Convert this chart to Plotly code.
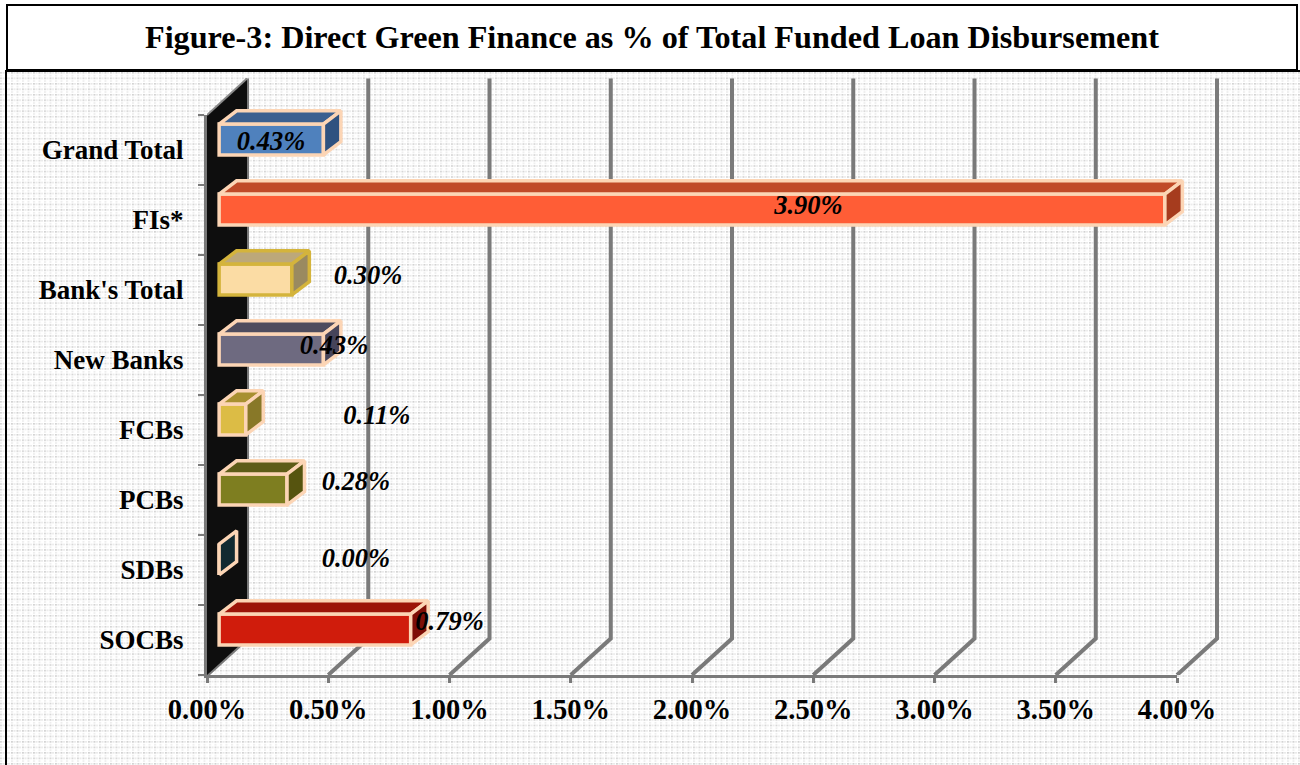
import base64
import plotly.graph_objects as go

# ---- chart content -------------------------------------------------------
TITLE = "Figure-3: Direct Green Finance as % of Total Funded Loan Disbursement"
CATEGORIES = ["SOCBs", "SDBs", "PCBs", "FCBs", "New Banks", "Bank's Total", "FIs*", "Grand Total"]
VALUES = [0.79, 0.00, 0.28, 0.11, 0.43, 0.30, 3.90, 0.43]
X_TICKS = [0.0, 0.5, 1.0, 1.5, 2.0, 2.5, 3.0, 3.5, 4.0]

# Where each value label is centred, in axis units.
LABEL_X = [1.00, 0.614, 0.614, 0.70, 0.524, 0.664, 2.48, 0.264]
LABEL_Y = [0.24, 1.14, 2.24, 3.18, 4.18, 5.18, 6.18, 7.10]

# Face colours per bar: front, top, side, outline.
FRONT = ["#d01c0c", "#122a30", "#7e7e20", "#dcbc45", "#6e6a80", "#fbdca4", "#ff5d36", "#4f81bd"]
TOP = ["#9c1408", "#122a30", "#5e5c18", "#a89030", "#4e4c5e", "#bca87a", "#c04a28", "#3b6090"]
SIDE = ["#7e0e06", "#122a30", "#56540f", "#887828", "#46445a", "#9a8a60", "#a63c1e", "#2f5280"]
EDGE = ["#fcd5b5", "#fcd5b5", "#fcd5b5", "#fcd5b5", "#fcd5b5", "#d4b43c", "#fcd5b5", "#fcd5b5"]

# ---- 3-D projection settings (axis units) --------------------------------
WALL_DX, WALL_DY = 0.165, 0.52      # depth of the chart box
BAR_DX, BAR_DY = 0.072, 0.19        # depth of a bar
BAR_BASE = 0.05                     # bars sit slightly into the box
BAR_SHIFT = 0.15                    # front face is raised within its band
BAR_H = 0.44
OUTLINE = 3.5

GRID = "#7a7a7a"
Y_BOTTOM, Y_TOP = -0.5, 7.5
FONT = "Liberation Serif"

W, H = 1300, 765
PLOT_L, PLOT_R, PLOT_T, PLOT_B = 207, 1177, 115, 675     # visible axes
OUTER_R, OUTER_T = 1225, 72                              # room for the box depth
PX_X = (PLOT_R - PLOT_L) / 4
PX_Y = (PLOT_B - PLOT_T) / (Y_TOP - Y_BOTTOM)
OUTER_X_RANGE = [0, (OUTER_R - PLOT_L) / PX_X]
OUTER_Y_RANGE = [Y_BOTTOM, Y_BOTTOM + (PLOT_B - OUTER_T) / PX_Y]
px = lambda v: v / W
py = lambda v: 1 - v / H

fig = go.Figure()


def poly(xs, ys, fill, line=None, width=0, axes=("x", "y")):
    fig.add_trace(go.Scatter(
        x=xs, y=ys, xaxis=axes[0], yaxis=axes[1], mode="lines", fill="toself", fillcolor=fill,
        line=dict(color=line or fill, width=width),
        hoverinfo="skip", showlegend=False,
    ))


def seg(xs, ys, color=GRID, width=4):
    fig.add_trace(go.Scatter(
        x=xs, y=ys, xaxis="x", yaxis="y", mode="lines", line=dict(color=color, width=width),
        hoverinfo="skip", showlegend=False,
    ))


# Gridlines on the floor and back plane
for t in X_TICKS:
    seg([t, t + WALL_DX, t + WALL_DX],
        [Y_BOTTOM, Y_BOTTOM + WALL_DY, Y_TOP + WALL_DY])

# Black side wall of the box
poly([0, WALL_DX, WALL_DX, 0, 0],
     [Y_TOP, Y_TOP + WALL_DY, Y_BOTTOM + WALL_DY, Y_BOTTOM, Y_TOP], "#0e0e0e")
seg([0, WALL_DX], [Y_TOP, Y_TOP + WALL_DY], color="#8a8a8a", width=2)

# Front faces: the real bars, on the visible axes
fig.add_trace(go.Bar(
    orientation="h",
    xaxis="x2", yaxis="y2",
    y=[i + BAR_SHIFT for i in range(len(VALUES))],
    x=VALUES,
    base=BAR_BASE,
    width=BAR_H,
    marker=dict(color=FRONT, line=dict(color=EDGE, width=OUTLINE)),
    hoverinfo="skip", showlegend=False,
))

# Top and side faces of each bar
for i, v in enumerate(VALUES):
    x0 = BAR_BASE
    x1 = BAR_BASE + v
    lo = i + BAR_SHIFT - BAR_H / 2
    hi = i + BAR_SHIFT + BAR_H / 2
    if v > 0:
        poly([x0, x0 + BAR_DX, x1 + BAR_DX, x1, x0],
             [hi, hi + BAR_DY, hi + BAR_DY, hi, hi], TOP[i], EDGE[i], OUTLINE, ("x3", "y3"))
    poly([x1, x1 + BAR_DX, x1 + BAR_DX, x1, x1],
         [lo, lo + BAR_DY, hi + BAR_DY, hi, lo], SIDE[i], EDGE[i], OUTLINE, ("x3", "y3"))

fig.add_trace(go.Scatter(
    x=LABEL_X, y=LABEL_Y, xaxis="x3", yaxis="y3", mode="text",
    text=[f"{v:.2f}%" for v in VALUES],
    textposition="middle center",
    textfont=dict(family=FONT, size=26.5, color="#000000", weight="bold", style="italic"),
    hoverinfo="skip", showlegend=False,
))

# Fine dotted backdrop below the heading
tile = base64.b64encode(
    b'<svg xmlns="http://www.w3.org/2000/svg" width="1300" height="695">'
    b'<defs><pattern id="d" width="5.5" height="5.5" patternUnits="userSpaceOnUse">'
    b'<rect width="5.5" height="5.5" fill="#ffffff"/>'
    b'<rect width="2" height="1.6" fill="#d2d2d2"/>'
    b'<rect x="2.8" width="1.6" height="1.6" fill="#e6e6e6"/>'
    b'<rect y="2.8" width="2" height="1.6" fill="#ececec"/>'
    b'</pattern></defs><rect width="1300" height="695" fill="url(#d)"/></svg>'
).decode()

hidden = dict(visible=False, fixedrange=True)
outer_x = dict(domain=[px(PLOT_L), px(OUTER_R)], range=OUTER_X_RANGE, **hidden)
outer_y = dict(domain=[py(PLOT_B), py(OUTER_T)], range=OUTER_Y_RANGE, **hidden)

fig.update_layout(
    width=W, height=H,
    margin=dict(l=0, r=0, t=0, b=0, autoexpand=False),
    paper_bgcolor="#ffffff",
    plot_bgcolor="rgba(0,0,0,0)",
    showlegend=False,
    barmode="overlay",
    images=[dict(
        source="data:image/svg+xml;base64," + tile,
        xref="paper", yref="paper", x=0, y=py(72),
        sizex=1, sizey=py(72), xanchor="left", yanchor="top",
        sizing="stretch", layer="below",
    )],
    xaxis=dict(anchor="y", **outer_x),
    yaxis=dict(anchor="x", **outer_y),
    xaxis3=dict(anchor="y3", **outer_x),
    yaxis3=dict(anchor="x3", **outer_y),
    xaxis2=dict(
        anchor="y2", domain=[px(PLOT_L), px(PLOT_R)],
        range=[0, 4], tickvals=X_TICKS, ticktext=[f"{t:.2f}%" for t in X_TICKS],
        ticks="outside", ticklen=5, tickwidth=3, tickcolor=GRID, ticklabelstandoff=2,
        showline=True, linecolor=GRID, linewidth=3, showgrid=False, zeroline=False,
        tickfont=dict(family=FONT, size=28.5, color="#000000", weight="bold"),
    ),
    yaxis2=dict(
        anchor="x2", domain=[py(PLOT_B), py(PLOT_T)],
        range=[Y_BOTTOM, Y_TOP],
        tickvals=list(range(len(CATEGORIES))), ticktext=CATEGORIES,
        ticks="", ticklabelstandoff=15,
        minor=dict(tickvals=[k - 0.5 for k in range(len(CATEGORIES) + 1)],
                   ticks="outside", ticklen=6, tickwidth=2, tickcolor=GRID, showgrid=False),
        showline=True, linecolor=GRID, linewidth=3, showgrid=False, zeroline=False,
        tickfont=dict(family=FONT, size=27, color="#000000", weight="bold"),
    ),
    shapes=[
        # Heading box and the frame running under it
        dict(type="rect", xref="paper", yref="paper", x0=px(7), x1=px(1297),
             y0=py(70), y1=py(5), line=dict(color="#000000", width=2),
             fillcolor="#ffffff", layer="below"),
        dict(type="line", xref="paper", yref="paper", x0=px(5), x1=1,
             y0=py(71), y1=py(71), line=dict(color="#000000", width=2)),
        dict(type="line", xref="paper", yref="paper", x0=px(6), x1=px(6),
             y0=py(71), y1=0, line=dict(color="#000000", width=2)),
    ],
    annotations=[dict(
        text=TITLE, xref="paper", yref="paper", x=px(652), y=py(37),
        xanchor="center", yanchor="middle", showarrow=False,
        font=dict(family=FONT, size=32.2, color="#000000", weight="bold"),
    )],
)

fig.write_html("out.html")
